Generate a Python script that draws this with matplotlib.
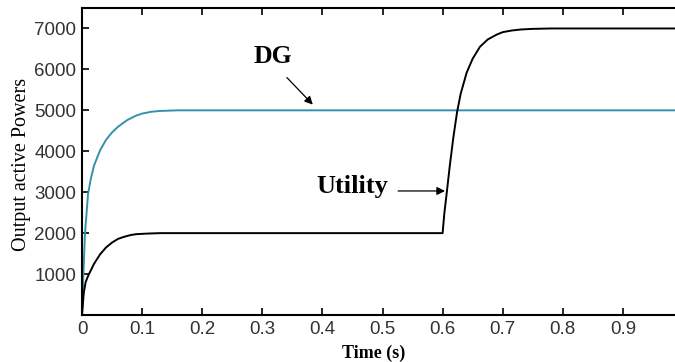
import matplotlib
matplotlib.use('Agg')
import matplotlib.pyplot as plt

# values
t_dg = [0, 0.002, 0.005, 0.01, 0.015, 0.02, 0.03, 0.04, 0.05, 0.06, 0.075,
        0.09, 0.1, 0.115, 0.13, 0.16, 0.2, 1.0]
p_dg = [0, 900, 2000, 2950, 3350, 3650, 4020, 4280, 4460, 4600, 4760,
        4870, 4920, 4965, 4985, 5000, 5000, 5000]

t_ut = [0, 0.003, 0.006, 0.01, 0.015, 0.02, 0.03, 0.04, 0.05, 0.06, 0.07,
        0.08, 0.09, 0.11, 0.13, 0.6, 0.603, 0.607, 0.612, 0.618, 0.624, 0.63,
        0.64, 0.65, 0.662, 0.675, 0.69, 0.7, 0.715, 0.73, 0.75, 0.78, 1.0]
p_ut = [0, 550, 800, 950, 1100, 1250, 1480, 1650, 1770, 1860, 1910,
        1950, 1975, 1990, 2000, 2000, 2500, 3000, 3650, 4350, 4950, 5400,
        5920, 6260, 6550, 6730, 6850, 6910, 6950, 6975, 6990, 7000, 7000]

xticks = [0, 0.1, 0.2, 0.3, 0.4, 0.5, 0.6, 0.7, 0.8, 0.9]
xtick_labels = ['0', '0.1', '0.2', '0.3', '0.4', '0.5', '0.6', '0.7', '0.8', '0.9']
yticks = [1000, 2000, 3000, 4000, 5000, 6000, 7000]

fig = plt.figure(figsize=(6.75, 3.62), dpi=100)
ax = fig.add_axes([82 / 675, 47 / 362, 601 / 675, 307 / 362])

ax.plot(t_dg, p_dg, color='#3591ab', lw=1.4)
ax.plot(t_ut, p_ut, color='black', lw=1.4)

ax.set_xlim(0, 1.0)
ax.set_ylim(0, 7500)
ax.set_xticks(xticks)
ax.set_xticklabels(xtick_labels)
ax.set_yticks(yticks)
ax.tick_params(direction='in', top=True, right=True, length=5, width=1.2,
               labelsize=13.5, labelcolor='#333333', pad=4)
for lbl in ax.get_xticklabels() + ax.get_yticklabels():
    lbl.set_fontfamily('Liberation Sans')
for s in ax.spines.values():
    s.set_linewidth(1.5)

ax.set_xlabel('Time (s)', fontfamily='Liberation Serif', fontweight='bold',
              fontsize=13)
ax.xaxis.set_label_coords(0.485, -0.097)
ax.set_ylabel('Output active Powers', fontfamily='Liberation Serif',
              fontsize=14.5)
ax.yaxis.set_label_coords(-0.085, 0.49)

arrow = dict(arrowstyle='-|>', color='black', lw=0.9, shrinkA=0, shrinkB=0,
             mutation_scale=12)
ax.text(0.318, 6310, 'DG', fontfamily='Liberation Serif', fontweight='bold',
        fontsize=18.5, ha='center', va='center')
ax.annotate('', xy=(0.384, 5140), xytext=(0.341, 5800), arrowprops=arrow)
ax.text(0.449, 3130, 'Utility', fontfamily='Liberation Serif', fontweight='bold',
        fontsize=19, ha='center', va='center')
ax.annotate('', xy=(0.604, 3030), xytext=(0.526, 3030), arrowprops=arrow)

fig.savefig('out.png', dpi=100)
